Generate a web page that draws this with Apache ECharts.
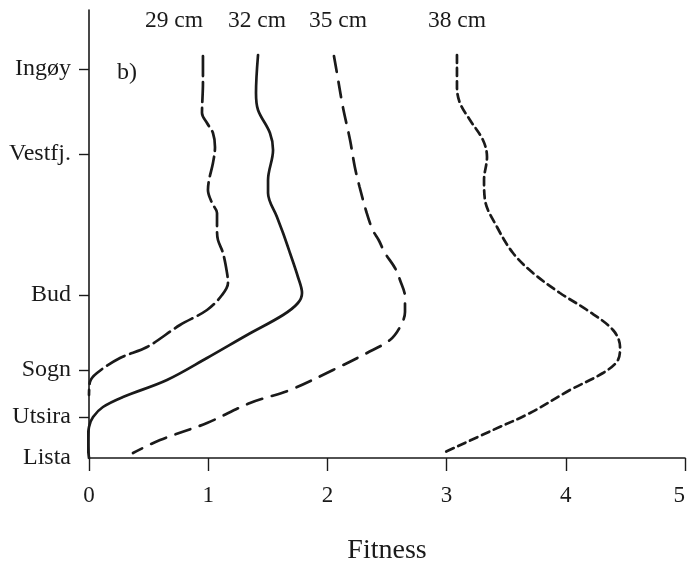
<!DOCTYPE html>
<html>
<head>
<meta charset="utf-8">
<script src="https://cdn.jsdelivr.net/npm/echarts@6/dist/echarts.min.js"></script>
<style>
html,body{margin:0;padding:0;background:#fff;}
#chart{width:687px;height:566px;}
</style>
</head>
<body>
<div id="chart"></div>
<script>
// Site positions along the coast (arbitrary distance units, Lista = 0)
const siteNames = ["Lista", "Utsira", "Sogn", "Bud", "Vestfj.", "Ingøy"];
const sitePos   = [0, 41, 88, 163, 304, 389];
const xTicks = [0, 1, 2, 3, 4, 5];
const seriesNames = ["29 cm", "32 cm", "35 cm", "38 cm"];

// Fitness (x) vs coastal position (y)
const fit29 = [[0.956,402],[0.956,375],[0.948,345],[0.99,335],[1.04,325],[1.057,311],[1.04,295],[1.007,278],[0.998,268],[1.032,255],[1.074,245],[1.074,228],[1.082,218],[1.124,205],[1.158,185],[1.166,175],[1.116,163],[0.99,148],[0.763,133],[0.487,111],[0.26,100],[0.067,85],[0.008,76],[0,63]];
const fit32 = [[1.418,403],[1.401,365],[1.418,348],[1.518,325],[1.544,308],[1.502,278],[1.502,265],[1.577,241],[1.628,225],[1.686,205],[1.753,181],[1.787,165],[1.753,155],[1.628,143],[1.326,123],[0.99,100],[0.654,78],[0.285,61],[0.117,51],[0.034,41],[0.0,31],[-0.01,15],[0,0]];
const fit35 = [[2.055,402],[2.08,385],[2.13,351],[2.19,318],[2.23,291],[2.27,271],[2.33,245],[2.38,228],[2.43,218],[2.483,205],[2.567,190],[2.609,178],[2.651,161],[2.651,146],[2.609,131],[2.525,118],[2.332,105],[2.047,88],[1.686,68],[1.351,55],[0.99,35],[0.596,18],[0.369,5]];
const fit38 = [[3.087,403],[3.087,371],[3.112,355],[3.196,338],[3.305,318],[3.339,301],[3.314,278],[3.322,258],[3.423,231],[3.557,205],[3.725,185],[3.951,165],[4.178,148],[4.396,128],[4.455,111],[4.438,98],[4.312,85],[4.035,68],[3.7,45],[3.389,28],[2.97,5]];

const font = "'Liberation Serif','Times New Roman',serif";
const ink = '#1a1a1a';

function lineSeries(name, data, type) {
  return {
    name: name, type: 'line', data: data, smooth: 0.35, symbol: 'none',
    lineStyle: { color: ink, width: 2.7, type: type, cap: 'round' },
    z: 3
  };
}

const chart = echarts.init(document.getElementById('chart'));
chart.setOption({
  animation: false,
  backgroundColor: '#fff',
  grid: { left: 89, right: 2, top: 10, bottom: 108, containLabel: false, outerBoundsMode: 'none' },
  xAxis: {
    type: 'value', min: 0, max: 5, interval: 1,
    name: 'Fitness', nameLocation: 'middle', nameGap: 79,
    nameTextStyle: { fontFamily: font, fontSize: 28, color: ink },
    axisLine: { show: true, lineStyle: { color: ink, width: 1.6 } },
    axisTick: { show: true, length: 13, lineStyle: { color: ink, width: 1.4 } },
    axisLabel: { fontFamily: font, fontSize: 23, color: ink, margin: 26, alignMaxLabel: 'right',
      formatter: function (v) { return xTicks.indexOf(v) >= 0 ? String(v) : ''; } },
    splitLine: { show: false }
  },
  yAxis: {
    type: 'value', min: 0, max: 448,
    axisLine: { show: true, lineStyle: { color: ink, width: 1.6 } },
    axisTick: { show: true, length: 10, customValues: sitePos.slice(1), lineStyle: { color: ink, width: 1.4 } },
    axisLabel: { fontFamily: font, fontSize: 24, color: ink, margin: 18,
      customValues: sitePos,
      formatter: function (v) { const i = sitePos.indexOf(v); return i >= 0 ? siteNames[i] : ''; } },
    splitLine: { show: false }
  },
  graphic: [
    { type: 'text', left: 117, top: 61, style: { text: 'b)', fontFamily: font, fontSize: 24, fill: ink } },
    { type: 'text', x: 174, y: 21, style: { text: seriesNames[0], fontFamily: font, fontSize: 23.5, fill: ink, align: 'center', verticalAlign: 'middle' } },
    { type: 'text', x: 257, y: 21, style: { text: seriesNames[1], fontFamily: font, fontSize: 23.5, fill: ink, align: 'center', verticalAlign: 'middle' } },
    { type: 'text', x: 338, y: 21, style: { text: seriesNames[2], fontFamily: font, fontSize: 23.5, fill: ink, align: 'center', verticalAlign: 'middle' } },
    { type: 'text', x: 457, y: 21, style: { text: seriesNames[3], fontFamily: font, fontSize: 23.5, fill: ink, align: 'center', verticalAlign: 'middle' } }
  ],
  series: [
    lineSeries(seriesNames[0], fit29, [20, 6]),
    lineSeries(seriesNames[1], fit32, 'solid'),
    lineSeries(seriesNames[2], fit35, [16, 10]),
    lineSeries(seriesNames[3], fit38, [8, 5])
  ]
});
</script>
</body>
</html>
